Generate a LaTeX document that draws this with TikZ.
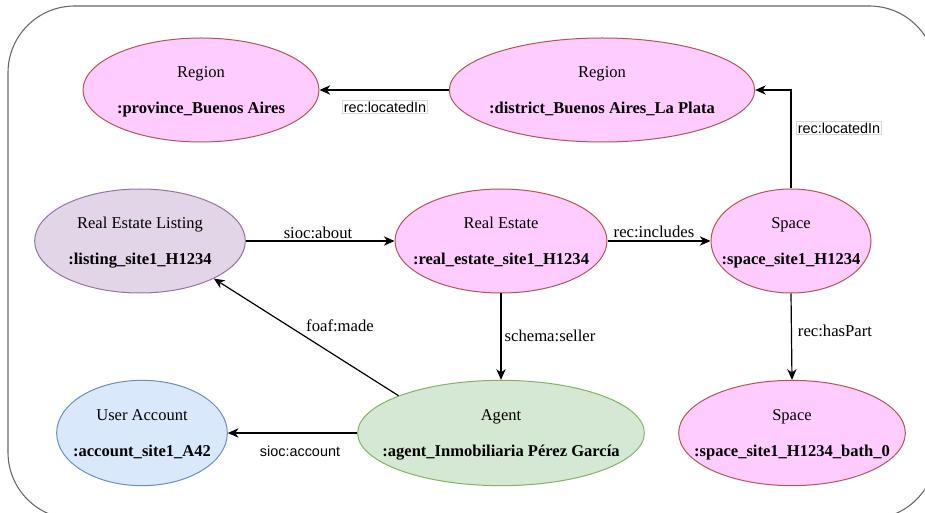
\documentclass[tikz,border=0pt]{standalone}
\usepackage{fontspec}
\setmainfont{Liberation Serif}
\newfontfamily\labelsans{Liberation Sans}
\usetikzlibrary{shapes.geometric,arrows.meta}
\definecolor{pinkfill}{HTML}{FFCCFF}
\definecolor{redline}{HTML}{B85450}
\definecolor{purplefill}{HTML}{E1D5E7}
\definecolor{purpleline}{HTML}{9673A6}
\definecolor{bluefill}{HTML}{DAE8FC}
\definecolor{blueline}{HTML}{6C8EBF}
\definecolor{greenfill}{HTML}{D5E8D4}
\definecolor{greenline}{HTML}{82B366}
\tikzset{
  ent/.style={ellipse, draw, line width=0.75pt, inner sep=0pt},
  pinkent/.style={ent, fill=pinkfill, draw=redline},
  purpleent/.style={ent, fill=purplefill, draw=purpleline},
  blueent/.style={ent, fill=bluefill, draw=blueline},
  greenent/.style={ent, fill=greenfill, draw=greenline},
  enttext/.style={font=\fontsize{12.4pt}{14pt}\selectfont, inner sep=0pt},
  rel/.style={line width=0.9pt, -{Stealth[length=8pt,width=7pt,inset=2.5pt]}},
  serlabel/.style={font=\fontsize{12.5pt}{14pt}\selectfont, inner sep=1pt},
  boxlabel/.style={font=\labelsans\fontsize{10.8pt}{13pt}\selectfont, draw=black!15,
    fill=white, inner sep=1pt},
  sanslabel/.style={font=\labelsans\fontsize{10.8pt}{13pt}\selectfont, inner sep=1pt},
}
% \entity{name}{style}{position}{width}{height}{class}{individual}
\newcommand{\entity}[7]{%
  \node[#2, minimum width=#4, minimum height=#5] (#1) at #3 {};
  \node[enttext, anchor=base] (#1-class) at ([yshift=9pt]#1.center) {#6};
  \node[enttext, anchor=base] (#1-id) at ([yshift=-17.3pt]#1.center) {\textbf{#7}};
}
\begin{document}
\begin{tikzpicture}[x=0.75pt,y=-0.75pt]
\useasboundingbox (0,0) rectangle (925,513);
% outer frame
\draw[black!60, line width=0.8pt, rounded corners=50pt] (8,6) rectangle (936,519);

% entities
\entity{prov}{pinkent}{(201,90)}{177pt}{78pt}{Region}{:province\_Buenos Aires}
\entity{dist}{pinkent}{(602,90)}{229pt}{78pt}{Region}{:district\_Buenos Aires\_La Plata}
\entity{listing}{purpleent}{(140,241)}{158pt}{78pt}{Real Estate Listing}{:listing\_site1\_H1234}
\entity{re}{pinkent}{(501,241)}{159pt}{78pt}{Real Estate}{:real\_estate\_site1\_H1234}
\entity{space}{pinkent}{(791,241)}{120pt}{78pt}{Space}{:space\_site1\_H1234}
\entity{acct}{blueent}{(142,433)}{128pt}{79pt}{User Account}{:account\_site1\_A42}
\entity{agent}{greenent}{(501,433)}{215pt}{79pt}{Agent}{:agent\_Inmobiliaria Pérez García}
\entity{bath}{pinkent}{(792,433)}{170pt}{79pt}{Space}{:space\_site1\_H1234\_bath\_0}

% relations
\draw[rel] (dist.west) -- (prov.east);
\node[boxlabel] (l1) at (385,107) {rec:locatedIn};

\draw[rel] (space.north) |- (dist.east);
\node[boxlabel] (l2) at (839,128) {rec:locatedIn};

\draw[rel] (listing.east) -- (re.west);
\node[serlabel] (l3) at (318,233) {sioc:about};

\draw[rel] (re.east) -- (space.west);
\node[serlabel] (l4) at (654,232) {rec:includes};

\draw[rel] (re.south) -- (agent.north);
\node[serlabel] (l5) at (550,336) {schema:seller};

\draw[rel] (agent.160) -- (listing.-27);
\node[serlabel] (l6) at (340,326) {foaf:made};

\draw[rel] (agent.west) -- (acct.east);
\node[sanslabel] (l7) at (300,451) {sioc:account};

\draw[rel] (space.south) -- (bath.north);
\node[serlabel] (l8) at (835,331) {rec:hasPart};
\end{tikzpicture}
\end{document}
